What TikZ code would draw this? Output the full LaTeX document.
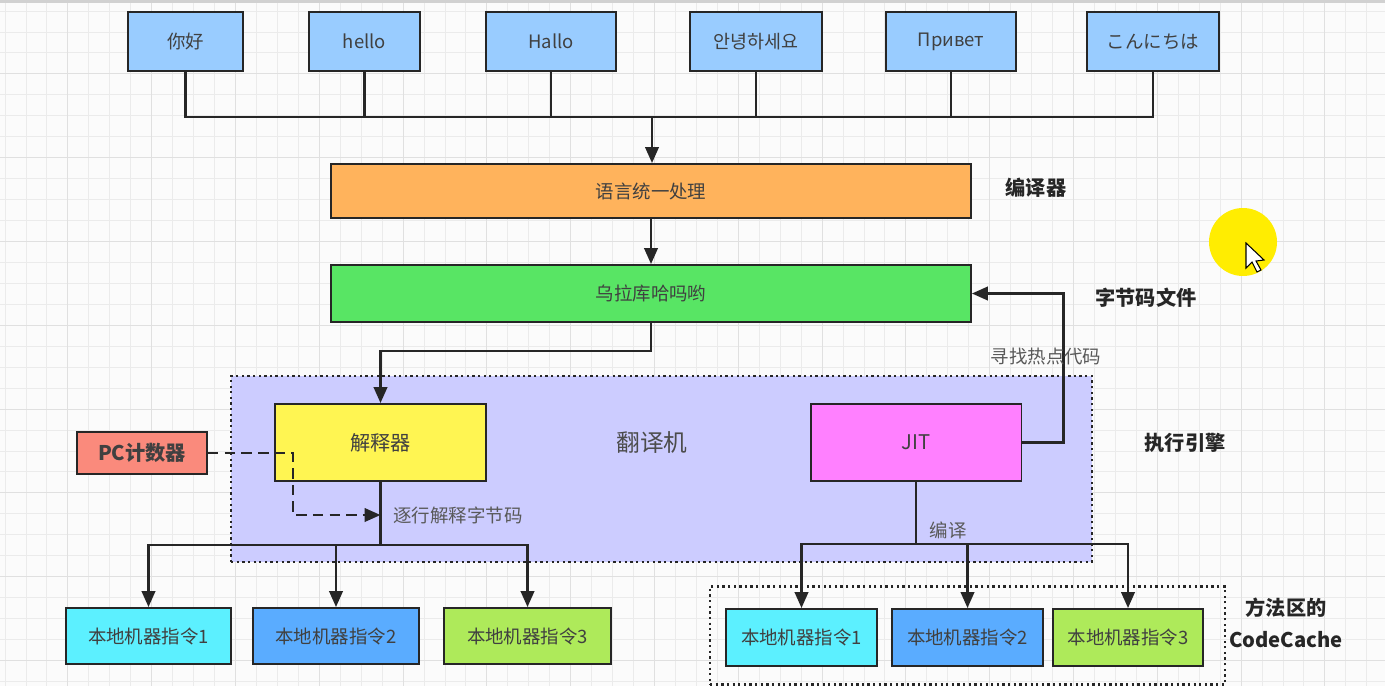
\documentclass[tikz,border=0pt]{standalone}
\usepackage{fontspec}
\setmainfont{Noto Sans CJK SC}
\usetikzlibrary{arrows.meta}
\definecolor{langblue}{HTML}{99CCFF}
\definecolor{unifyorange}{HTML}{FFB35C}
\definecolor{codegreen}{HTML}{58E564}
\definecolor{enginebg}{HTML}{CCCCFF}
\definecolor{interpyellow}{HTML}{FFF552}
\definecolor{jitpink}{HTML}{FF80FF}
\definecolor{pcred}{HTML}{FA8A7C}
\definecolor{natcyan}{HTML}{5CF0FF}
\definecolor{natblue}{HTML}{5AACFF}
\definecolor{natgreen}{HTML}{AEEA5A}

\begin{document}
\begin{tikzpicture}[
  x=0.02cm, y=-0.02cm,
  box/.style={draw=black!85,line width=1.1pt,text=black!75,inner sep=0pt,font=\fontsize{10.5}{12}\selectfont},
  lang/.style={box,fill=langblue,minimum height=1.18cm},
  stage/.style={box,minimum width=12.8cm},
  unit/.style={box,minimum width=4.22cm,minimum height=1.54cm,font=\fontsize{11.5}{14}\selectfont},
  instr/.style={box,minimum height=1.12cm},
  region/.style={draw=black!85,line width=1.5pt,dash pattern=on 1.3pt off 1.9pt,inner sep=0pt},
  note/.style={text=black!85,font=\fontsize{11.5}{14}\selectfont\bfseries},
  edgelabel/.style={text=black!65,font=\fontsize{10.5}{12}\selectfont},
  link/.style={draw=black!85,line width=1.4pt},
  arrow/.style={link,-{Triangle[length=0.32cm,width=0.27cm]}},
  dasharrow/.style={arrow,dash pattern=on 6pt off 3.5pt}
]
  % page and grid
  \useasboundingbox (0,0) rectangle (1385,686);
  \fill[black!1.5] (0,0) rectangle (1385,686);
  \foreach \i in {0,...,66}
    \draw[black!8,line width=0.5pt] (5+20.95*\i,0) -- (5+20.95*\i,686);
  \foreach \i in {0,...,32}
    \draw[black!8,line width=0.5pt] (0,11+20.95*\i) -- (1385,11+20.95*\i);
  \foreach \i in {3,7,...,63}
    \draw[black!12,line width=0.6pt] (5+20.95*\i,0) -- (5+20.95*\i,686);
  \foreach \i in {3,7,...,31}
    \draw[black!12,line width=0.6pt] (0,11+20.95*\i) -- (1385,11+20.95*\i);
  \fill[black!18] (0,0) rectangle (1385,3);

  % source languages
  \node[lang,minimum width=2.3cm]  (nihao)      at (185.5,41.5) {你好};
  \node[lang,minimum width=2.22cm] (hello)      at (364.5,41.5) {hello};
  \node[lang,minimum width=2.6cm]  (hallo)      at (551,41.5)   {Hallo};
  \node[lang,minimum width=2.64cm] (annyeong)   at (756,41.5)   {안녕하세요};
  \node[lang,minimum width=2.6cm]  (privet)     at (951,41.5)   {Привет};
  \node[lang,minimum width=2.64cm] (konnichiwa) at (1153,41.5)  {こんにちは};

  % compiler stages
  \node[stage,fill=unifyorange,minimum height=1.08cm] (unify)    at (651,191)   {语言统一处理};
  \node[stage,fill=codegreen,minimum height=1.14cm]   (bytecode) at (651,293.5) {乌拉库哈吗哟};

  % execution engine
  \node[region,fill=enginebg,minimum width=17.22cm,minimum height=3.72cm] (engine) at (661.5,469) {};
  \node[text=black!70,font=\fontsize{13.5}{16}\selectfont] (translator) at (652,443) {翻译机};
  \node[unit,fill=interpyellow] (interp) at (380.5,442.5) {解释器};
  \node[unit,fill=jitpink]      (jit)    at (916,442.5)   {JIT};
  \node[box,fill=pcred,minimum width=2.6cm,minimum height=0.84cm,font=\fontsize{11.5}{14}\selectfont\bfseries] (pc) at (142,453) {PC计数器};

  % code cache
  \node[region,minimum width=10.3cm,minimum height=1.96cm] (cache) at (967.5,635.5) {};

  % native instructions
  \node[instr,fill=natcyan,minimum width=3.3cm]   (nat1) at (148.5,636) {本地机器指令1};
  \node[instr,fill=natblue,minimum width=3.32cm]  (nat2) at (336,636)   {本地机器指令2};
  \node[instr,fill=natgreen,minimum width=3.34cm] (nat3) at (527.5,636) {本地机器指令3};
  \node[instr,fill=natcyan,minimum width=3.02cm,minimum height=1.14cm]  (jnat1) at (801.5,637.5) {本地机器指令1};
  \node[instr,fill=natblue,minimum width=3.02cm,minimum height=1.14cm]  (jnat2) at (967.5,637.5) {本地机器指令2};
  \node[instr,fill=natgreen,minimum width=3cm,minimum height=1.14cm]    (jnat3) at (1128,637.5)  {本地机器指令3};

  % side notes
  \node[note] (compilernote) at (1036,188)   {编译器};
  \node[note] (bytecodenote) at (1146,298)   {字节码文件};
  \node[note] (enginenote)   at (1185,443)   {执行引擎};
  \node[note,align=center,font=\fontsize{11.5}{18}\selectfont\bfseries] (cachenote) at (1286,623) {方法区的\\CodeCache};

  % connectors
  \coordinate (bus) at (652,117);
  \draw[link] (nihao.south) -- (nihao.south |- bus) -- (konnichiwa.south |- bus) -- (konnichiwa.south);
  \draw[link] (hello.south) -- (hello.south |- bus);
  \draw[link] (hallo.south) -- (hallo.south |- bus);
  \draw[link] (annyeong.south) -- (annyeong.south |- bus);
  \draw[link] (privet.south) -- (privet.south |- bus);
  \draw[arrow] (bus) -- (bus |- unify.north);
  \draw[arrow] (unify.south) -- (bytecode.north);
  \draw[arrow] (bytecode.south) -- ++(0,28) -| (interp.north);
  \draw[arrow] (jit.east) -- ++(41,0) |- (bytecode.east);
  \node[edgelabel] (hotlabel) at (1046,357) {寻找热点代码};

  \coordinate (dashbend) at (293,515);
  \draw[dasharrow] (pc.east) -| (dashbend) -- (dashbend -| interp.south);
  \node[edgelabel] (linelabel) at (458,515) {逐行解释字节码};

  \coordinate (ibus) at (380.5,545);
  \draw[link] (interp.south) -- (ibus);
  \draw[arrow] (ibus) -| (nat1.north);
  \draw[arrow] (ibus) -| (nat2.north);
  \draw[arrow] (ibus) -| (nat3.north);

  \coordinate (jbus) at (916,544);
  \draw[link] (jit.south) -- (jbus);
  \draw[arrow] (jbus) -| (jnat1.north);
  \draw[arrow] (jbus) -| (jnat2.north);
  \draw[arrow] (jbus) -| (jnat3.north);
  \node[edgelabel] (compilelabel) at (948,530) {编译};

  % cursor highlight
  \fill[yellow!95!orange] (1243,242) circle[radius=0.68cm];
  \draw[fill=white,line width=0.6pt] (1246,243) -- (1246,268) -- (1252,262) -- (1257,272) -- (1261,270) -- (1256,261) -- (1264,260) -- cycle;
\end{tikzpicture}
\end{document}
